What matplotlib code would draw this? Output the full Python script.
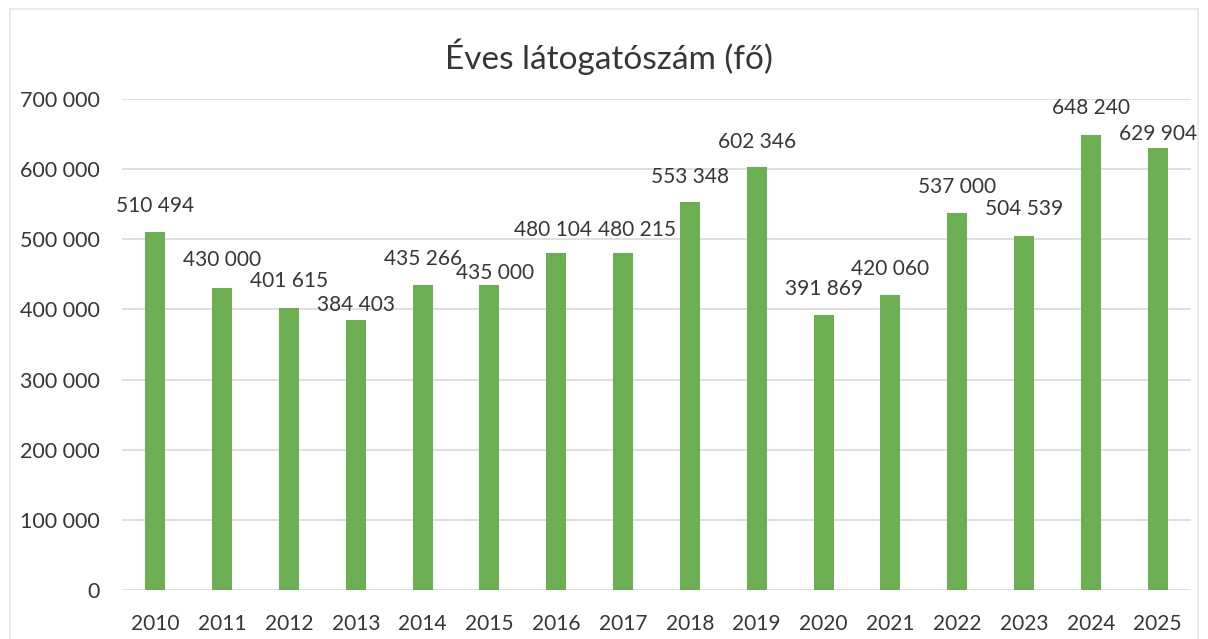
import numpy as np
import matplotlib
matplotlib.use('Agg')
import matplotlib.pyplot as plt
from matplotlib.patches import Rectangle
from matplotlib.ticker import FuncFormatter

# data ------------------------------------------------------------------------
years    = ['2010', '2011', '2012', '2013', '2014', '2015', '2016', '2017',
            '2018', '2019', '2020', '2021', '2022', '2023', '2024', '2025']
visitors = [510494, 430000, 401615, 384403, 435266, 435000, 480104, 480215,
            553348, 602346, 391869, 420060, 537000, 504539, 648240, 629904]
title    = 'Éves látogatószám (fő)'

# label nudges in pixels (hand placed in the original chart)
label_dx = [0, 0, 0, 0, 0, 6, -3, 14, 0, 0, 0, 0, 0, 0, 0, 0]
label_dy = [26, 28, 27, 15, 26, 12, 23, 23, 25, 25, 26, 26, 26, 27, 27, 14]

# style
green    = '#6BAF52'
txt_col  = '#363636'
grid_col = '#d9d9d9'

plt.rcParams['font.family'] = ['Lato', 'DejaVu Sans']

def spaced(v, pos=None):
    return format(int(v), ',').replace(',', ' ')

# figure ----------------------------------------------------------------------
fig = plt.figure(figsize=(12.08, 6.39), dpi=100)
ax = fig.add_axes([122/1208, 49/639, 1069/1208, 491/639])

x = np.arange(len(years))
ax.bar(x, visitors, width=0.30, color=green, zorder=3)

ax.set_xlim(-0.5, len(years) - 0.5)
ax.set_ylim(0, 700000)
ax.set_yticks(np.arange(0, 700001, 100000))
ax.yaxis.set_major_formatter(FuncFormatter(spaced))
ax.set_xticks(x)
ax.set_xticklabels(years)

ax.grid(axis='y', color=grid_col, linewidth=1.2, zorder=0)
for s in ax.spines.values():
    s.set_visible(False)
ax.tick_params(axis='both', length=0, labelsize=15, colors=txt_col)
ax.tick_params(axis='y', labelsize=15.5, pad=16)
ax.tick_params(axis='x', pad=17)

# data labels
for xi, v, dx, dy in zip(x, visitors, label_dx, label_dy):
    ax.annotate(spaced(v), (xi, v), xytext=(dx, dy), textcoords='offset pixels',
                ha='center', va='center', fontsize=15, color=txt_col)

fig.text(609/1208, 1 - 57/639, title, ha='center', va='center',
         fontsize=24, color=txt_col)

# faint chart border from the scan (bottom edge runs off the page)
fig.patches.append(Rectangle((10/1208, -0.05), 1188/1208, 1.05 - 9/639,
                             transform=fig.transFigure, fill=False,
                             edgecolor='#e6e6e6', linewidth=1.2))

plt.savefig('out.png', dpi=100)
